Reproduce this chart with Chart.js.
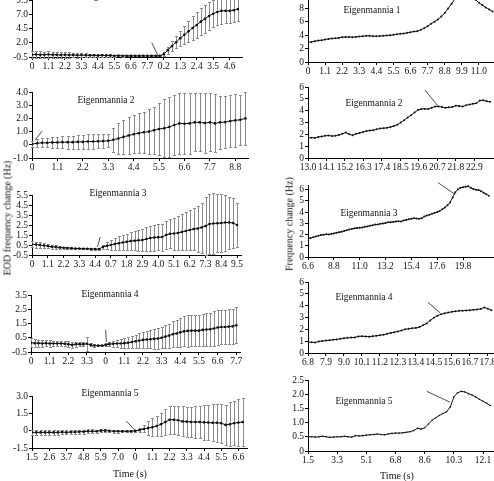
<!DOCTYPE html>
<html>
<head>
<meta charset="utf-8">
<script src="https://cdn.jsdelivr.net/npm/chart.js@4/dist/chart.umd.min.js"></script>
<style>
  html, body { margin: 0; padding: 0; background: #fff; }
  body { width: 494px; height: 481px; position: relative; overflow: hidden; font-family: "Liberation Serif", "Times New Roman", serif; color: #111; }
  canvas { position: absolute; }
  .lbl { position: absolute; font-size: 9.5px; white-space: nowrap; transform: translate(-50%, -50%); }
  .vlbl { position: absolute; font-size: 10px; white-space: nowrap; transform: translate(-50%, -50%) rotate(-90deg); }
</style>
</head>
<body>
<canvas id="l1"></canvas><canvas id="l2"></canvas><canvas id="l3"></canvas><canvas id="l4"></canvas><canvas id="l5"></canvas>
<canvas id="r1"></canvas><canvas id="r2"></canvas><canvas id="r3"></canvas><canvas id="r4"></canvas><canvas id="r5"></canvas>

<div class="lbl" style="left:114px;top:-4px">Eigenmannia 1</div>
<div class="lbl" style="left:106px;top:100px">Eigenmannia 2</div>
<div class="lbl" style="left:118px;top:193px">Eigenmannia 3</div>
<div class="lbl" style="left:110px;top:294px">Eigenmannia 4</div>
<div class="lbl" style="left:110px;top:393px">Eigenmannia 5</div>
<div class="lbl" style="left:372px;top:10px">Eigenmannia 1</div>
<div class="lbl" style="left:374px;top:103px">Eigenmannia 2</div>
<div class="lbl" style="left:369px;top:213px">Eigenmannia 3</div>
<div class="lbl" style="left:364px;top:297px">Eigenmannia 4</div>
<div class="lbl" style="left:364px;top:401px">Eigenmannia 5</div>
<div class="vlbl" style="left:7px;top:218px">EOD frequency change (Hz)</div>
<div class="vlbl" style="left:289px;top:224px">Frequency change (Hz)</div>
<div class="lbl" style="left:130px;top:473px;font-size:10px">Time (s)</div>
<div class="lbl" style="left:397px;top:475px;font-size:10px">Time (s)</div>

<script>
// ---- data: left column (mean +- error, 0 = stimulus) ----
const l1Mean = [-0.1,-0.05,-0.1,-0.1,-0.05,-0.1,-0.1,-0.15,-0.1,-0.15,-0.15,-0.2,-0.15,-0.2,-0.2,-0.2,-0.25,-0.2,-0.25,-0.25,-0.3,-0.25,-0.3,-0.3,-0.3,-0.3,-0.3,-0.3,-0.3,-0.3,-0.3,-0.3,
  0.0,0.7,1.4,2.1,2.8,3.4,4.0,4.6,5.1,5.7,6.2,6.7,7.1,7.4,7.6,7.6,7.6,7.7,7.9];
const l1Err = [0.6,0.55,0.6,0.55,0.6,0.55,0.5,0.5,0.55,0.5,0.4,0.4,0.35,0.35,0.3,0.3,0.3,0.25,0.25,0.2,0.15,0.15,0.15,0.1,0.1,0.1,0.1,0.08,0.08,0.08,0.08,0.1,
  0.3,0.6,0.9,1.1,1.3,1.6,1.9,2.1,2.3,2.4,2.5,2.5,2.4,2.3,2.3,2.2,2.1,2.0,2.0];
const l1XLabels = ['0','1.1','2.2','3.3','4.4','5.5','6.6','7.7','0.2','1.3','2.4','3.5','4.6'];
const l1YTicks = [-0.5, 2.0, 4.5, 7.0, 9.5];
const l1YLabels = ['-0.5','2.0','4.5','7.0','9.5'];
const l1Arrow = [29.1, 2.0, 30.5, -0.1];

const l2Mean = [0.05,0.12,0.15,0.15,0.18,0.18,0.2,0.2,0.2,0.22,0.22,0.25,0.25,0.27,0.28,0.3,0.38,0.48,0.6,0.7,0.8,0.88,0.95,1.0,1.1,1.2,1.25,1.35,1.5,1.62,1.6,1.62,1.7,1.7,1.65,1.7,1.62,1.7,1.72,1.8,1.85,1.9,2.0];
const l2Err = [0.25,0.3,0.35,0.35,0.4,0.4,0.45,0.5,0.5,0.55,0.55,0.55,0.55,0.55,0.55,0.5,0.9,1.2,1.3,1.4,1.45,1.5,1.55,1.7,1.8,2.0,2.2,2.3,2.3,2.3,2.3,2.3,2.2,2.2,2.3,2.2,2.2,2.0,2.0,2.0,2.0,1.9,2.0];
const l2XLabels = ['0','1.1','2.2','3.3','4.4','5.5','6.6','7.7','8.8'];
const l2YTicks = [-1, 0, 1, 2, 3, 4];
const l2YLabels = ['-1.0','0','1.0','2.0','3.0','4.0'];
const l2Arrow = [2.0, 1.05, 0.6, 0.35];

const l3Mean = [0.57,0.55,0.5,0.45,0.4,0.32,0.3,0.25,0.22,0.2,0.18,0.15,0.15,0.12,0.12,0.1,0.1,0.1,0.3,0.42,0.5,0.6,0.68,0.75,0.82,0.9,0.92,0.97,1.0,1.1,1.2,1.25,1.28,1.3,1.5,1.62,1.65,1.7,1.8,1.9,2.0,2.1,2.15,2.25,2.4,2.6,2.65,2.68,2.7,2.75,2.75,2.7,2.5];
const l3Err = [0.3,0.3,0.28,0.25,0.22,0.2,0.18,0.15,0.12,0.1,0.1,0.08,0.08,0.06,0.06,0.05,0.05,0.05,0.2,0.35,0.5,0.6,0.7,0.75,0.8,0.9,0.95,1.05,1.1,1.2,1.25,1.3,1.3,1.35,1.4,1.45,1.6,1.7,1.8,1.9,2.0,2.1,2.3,2.5,2.9,3.0,3.0,2.9,2.85,2.8,2.6,2.5,2.2];
const l3XLabels = ['0','1.1','2.2','3.3','4.4','0.7','1.8','2.9','4.0','5.1','6.2','7.3','8.4','9.5'];
const l3YTicks = [-0.5, 0.5, 1.5, 2.5, 3.5, 4.5, 5.5];
const l3YLabels = ['-0.5','0.5','1.5','2.5','3.5','4.5','5.5'];
const l3Arrow = [17.3, 1.3, 16.6, 0.3];

const l4Mean = [0.15,0.12,0.12,0.1,0.12,0.1,0.1,0.1,0.1,0.08,0.05,0.0,0.05,0.05,0.05,0.08,0.0,-0.05,-0.05,-0.05,0.0,0.05,0.08,0.1,0.1,0.12,0.15,0.2,0.25,0.3,0.35,0.38,0.4,0.42,0.45,0.5,0.58,0.65,0.75,0.8,0.88,0.95,0.98,1.0,1.0,1.0,1.05,1.08,1.1,1.15,1.22,1.25,1.25,1.28,1.3,1.38];
const l4Err = [0.3,0.28,0.25,0.25,0.22,0.22,0.2,0.2,0.2,0.18,0.2,0.22,0.18,0.15,0.15,0.5,0.1,0.08,0.06,0.06,0.1,0.15,0.2,0.25,0.3,0.35,0.4,0.45,0.45,0.5,0.55,0.6,0.65,0.7,0.72,0.75,0.8,0.85,0.9,0.95,1.0,1.05,1.1,1.1,1.1,1.1,1.1,1.15,1.15,1.2,1.2,1.2,1.2,1.25,1.25,1.25];
const l4XLabels = ['0','1.1','2.2','3.3','0','1.1','2.2','3.3','4.4','5.5','6.6','7.7'];
const l4YTicks = [-0.5, 0.5, 1.5, 2.5, 3.5];
const l4YLabels = ['-0.5','0.5','1.5','2.5','3.5'];
const l4Arrow = [20.0, 1.05, 20.2, 0.2];

const l5Mean = [-0.15,-0.15,-0.15,-0.15,-0.15,-0.15,-0.15,-0.12,-0.15,-0.12,-0.12,-0.1,-0.08,-0.05,-0.05,-0.05,0.0,0.0,-0.02,-0.05,-0.05,-0.05,-0.05,-0.05,-0.02,0.05,0.15,0.22,0.3,0.4,0.55,0.75,0.95,0.95,0.9,0.8,0.78,0.75,0.75,0.75,0.72,0.7,0.68,0.68,0.65,0.5,0.55,0.65,0.7,0.75];
const l5Err = [0.2,0.22,0.2,0.2,0.22,0.2,0.2,0.2,0.18,0.2,0.2,0.18,0.18,0.16,0.16,0.15,0.15,0.14,0.12,0.12,0.12,0.1,0.1,0.1,0.1,0.2,0.3,0.6,0.8,0.9,1.0,1.1,1.2,1.2,1.25,1.3,1.3,1.3,1.35,1.4,1.5,1.55,1.6,1.65,1.7,1.7,1.9,1.9,2.0,2.1];
const l5XLabels = ['1.5','2.6','3.7','4.8','5.9','7.0','0','1.1','2.2','3.3','4.4','5.5','6.6'];
const l5YTicks = [-1.5, 0, 1.5, 3.0];
const l5YLabels = ['-1.5','0','1.5','3.0'];
const l5Arrow = [21.9, 0.85, 24.0, 0.0];

// ---- data: right column (single traces) ----
const r1Vals = [2.9,3.0,3.1,3.2,3.25,3.35,3.45,3.5,3.55,3.6,3.7,3.72,3.75,3.7,3.75,3.8,3.85,3.9,3.9,3.85,3.85,3.88,3.9,3.95,4.0,4.05,4.15,4.2,4.25,4.35,4.45,4.55,4.6,4.8,5.05,5.35,5.7,6.0,6.35,6.8,7.3,8.0,8.7,9.4,10.1,10.5,10.5,10.2,9.8,9.3,8.85,8.5,8.15,7.85,7.55];
const r1XLabels = ['0','1.1','2.2','3.3','4.4','5.5','6.6','7.7','8.8','9.9','11.0'];
const r1YTicks = [0, 2, 4, 6, 8, 10];
const r1YLabels = ['0','2','4','6','8','10'];

const r2Vals = [1.7,1.72,1.7,1.78,1.82,1.88,1.9,1.85,1.88,1.95,2.05,2.15,2.0,1.92,2.05,2.12,2.2,2.28,2.32,2.35,2.42,2.5,2.52,2.55,2.62,2.7,2.82,3.0,3.2,3.42,3.62,3.85,4.05,4.15,4.15,4.15,4.25,4.35,4.35,4.3,4.25,4.28,4.3,4.42,4.4,4.35,4.45,4.52,4.58,4.62,4.85,4.88,4.8,4.75];
const r2XLabels = ['13.0','14.1','15.2','16.3','17.4','18.5','19.6','20.7','21.8','22.9'];
const r2YTicks = [0, 1, 2, 3, 4, 5, 6];
const r2YLabels = ['0','1','2','3','4','5','6'];
const r2Arrow = [34.0, 5.75, 37.8, 4.4];

const r3Vals = [1.63,1.68,1.75,1.82,1.9,1.95,1.98,2.02,2.0,2.05,2.1,2.15,2.2,2.25,2.32,2.38,2.45,2.5,2.55,2.58,2.6,2.62,2.68,2.72,2.78,2.82,2.88,2.9,2.95,2.98,3.02,3.08,3.1,3.12,3.15,3.18,3.15,3.25,3.3,3.35,3.4,3.45,3.42,3.4,3.45,3.6,3.68,3.75,3.85,3.92,4.0,4.1,4.25,4.4,4.6,4.85,5.3,5.75,6.0,6.15,6.2,6.25,6.3,6.15,6.05,5.98,5.95,5.85,5.72,5.58,5.45];
const r3XLabels = ['6.6','8.8','11.0','13.2','15.4','17.6','19.8'];
const r3YTicks = [0, 1, 2, 3, 4, 5, 6];
const r3YLabels = ['0','1','2','3','4','5','6'];
const r3Arrow = [50.4, 6.6, 57.0, 5.55];

const r4Vals = [0.92,0.9,0.88,0.98,1.02,1.05,1.08,1.12,1.15,1.2,1.25,1.28,1.3,1.32,1.4,1.42,1.4,1.38,1.42,1.45,1.5,1.55,1.62,1.7,1.75,1.82,1.9,2.0,2.05,2.1,2.12,2.2,2.35,2.5,2.75,2.98,3.15,3.28,3.35,3.42,3.48,3.52,3.56,3.58,3.6,3.62,3.65,3.68,3.72,3.85,3.75,3.62];
const r4XLabels = ['6.8','7.9','9.0','10.1','11.2','12.3','13.4','14.5','15.6','16.7','17.8'];
const r4YTicks = [0, 1, 2, 3, 4, 5, 6];
const r4YLabels = ['0','1','2','3','4','5','6'];
const r4Arrow = [33.3, 4.3, 36.7, 3.4];

const r5Vals = [0.5,0.5,0.49,0.5,0.52,0.5,0.48,0.49,0.5,0.5,0.52,0.5,0.49,0.54,0.53,0.54,0.56,0.57,0.58,0.6,0.58,0.57,0.6,0.62,0.63,0.63,0.64,0.66,0.68,0.72,0.8,0.77,0.82,0.95,1.08,1.17,1.25,1.32,1.38,1.55,1.9,2.05,2.1,2.08,2.02,1.97,1.9,1.82,1.75,1.68,1.6];
const r5XLabels = ['1.5','3.3','5.1','6.8','8.6','10.3','12.1'];
const r5YTicks = [0, 0.5, 1.0, 1.5, 2.0, 2.5];
const r5YLabels = ['0','0.5','1.0','1.5','2.0','2.5'];
const r5Arrow = [32.6, 2.1, 38.9, 1.72];

Chart.defaults.font.family = '"Liberation Serif", "Times New Roman", serif';
Chart.defaults.font.size = 9.5;
Chart.defaults.color = '#111';

// vertical error bars with little caps, drawn under the mean line
const errorBars = {
  id: 'errorBars',
  beforeDatasetsDraw(chart) {
    const ctx = chart.ctx, xs = chart.scales.x, ys = chart.scales.y;
    chart.data.datasets.forEach(ds => {
      if (!ds.errors) return;
      ctx.save();
      ctx.strokeStyle = '#8a8a8a';
      ctx.lineWidth = 1;
      ds.data.forEach((p, i) => {
        const e = ds.errors[i];
        const x = Math.round(xs.getPixelForValue(p.x)) + 0.5;
        const y1 = Math.round(ys.getPixelForValue(p.y - e)) + 0.5;
        const y2 = Math.round(ys.getPixelForValue(p.y + e)) + 0.5;
        ctx.beginPath();
        ctx.moveTo(x, y1); ctx.lineTo(x, y2);
        ctx.moveTo(x - 1.5, y1); ctx.lineTo(x + 1.5, y1);
        ctx.moveTo(x - 1.5, y2); ctx.lineTo(x + 1.5, y2);
        ctx.stroke();
      });
      ctx.restore();
    });
  }
};

// the little stimulus marker line
const pointer = {
  id: 'pointer',
  afterDatasetsDraw(chart, args, opts) {
    if (!opts.line) return;
    const [x1, y1, x2, y2] = opts.line;
    const ctx = chart.ctx, xs = chart.scales.x, ys = chart.scales.y;
    ctx.save();
    ctx.strokeStyle = '#222';
    ctx.lineWidth = 0.8;
    ctx.beginPath();
    ctx.moveTo(xs.getPixelForValue(x1), ys.getPixelForValue(y1));
    ctx.lineTo(xs.getPixelForValue(x2), ys.getPixelForValue(y2));
    ctx.stroke();
    ctx.restore();
  }
};

// area = chart area on the page [left, top, right, bottom]
function panel(id, area, xMax, xStep, xLabels, yMin, yMax, yTicks, yLabels, vals, errs, arrow, dot) {
  const [l, t, r, b] = area;
  const cv = document.getElementById(id);
  const w = Math.round(r - l + 38), h = Math.round(b - t + 32);
  cv.width = w; cv.height = h;
  cv.style.left = (l - 32) + 'px';
  cv.style.top = (t - 14) + 'px';
  cv.style.width = w + 'px';
  cv.style.height = h + 'px';

  new Chart(cv, {
    type: 'line',
    data: {
      datasets: [{
        data: vals.map((v, i) => ({ x: i, y: v })),
        errors: errs,
        borderColor: '#111',
        borderWidth: 1,
        pointRadius: dot,
        pointBackgroundColor: '#111',
        pointBorderWidth: 0,
        tension: 0
      }]
    },
    options: {
      responsive: false,
      animation: false,
      devicePixelRatio: 1,
      layout: { padding: { left: 0, right: 6, top: 14, bottom: 0 } },
      plugins: { legend: { display: false }, tooltip: { enabled: false }, pointer: { line: arrow } },
      scales: {
        x: {
          type: 'linear', min: 0, max: xMax,
          afterFit: s => { s.height = 18; },
          afterBuildTicks: s => { s.ticks = xLabels.map((_, i) => ({ value: i * xStep })); },
          ticks: { autoSkip: false, maxRotation: 0, padding: 1, callback: (v, i) => xLabels[i] },
          grid: { drawOnChartArea: false, tickLength: 3, color: '#000' },
          border: { color: '#000' }
        },
        y: {
          min: yMin, max: yMax,
          afterFit: s => { s.width = 32; },
          afterBuildTicks: s => { s.ticks = yTicks.map(v => ({ value: v })); },
          ticks: { autoSkip: false, padding: 1, callback: (v, i) => yLabels[i] },
          grid: { drawOnChartArea: false, tickLength: 3, color: '#000' },
          border: { color: '#000' }
        }
      }
    },
    plugins: [errorBars, pointer]
  });
}

panel('l1', [32, 0, 242, 57], 51, 4, l1XLabels, -0.5, 9.5, l1YTicks, l1YLabels, l1Mean, l1Err, l1Arrow, 1.3);
panel('l2', [32, 92, 248, 158], 42.5, 5, l2XLabels, -1, 4, l2YTicks, l2YLabels, l2Mean, l2Err, l2Arrow, 1.3);
panel('l3', [32, 195, 241, 255], 53, 4, l3XLabels, -0.5, 5.5, l3YTicks, l3YLabels, l3Mean, l3Err, l3Arrow, 1.3);
panel('l4', [31, 295, 240, 352], 56, 5, l4XLabels, -0.5, 3.5, l4YTicks, l4YLabels, l4Mean, l4Err, l4Arrow, 1.3);
panel('l5', [32, 396, 247, 448], 50, 4, l5XLabels, -1.5, 3.0, l5YTicks, l5YLabels, l5Mean, l5Err, l5Arrow, 1.3);

panel('r1', [308, -5.5, 496, 61], 55, 5, r1XLabels, 0, 10, r1YTicks, r1YLabels, r1Vals, null, null, 1);
panel('r2', [308, 87, 497, 158], 55, 5.38, r2XLabels, 0, 6, r2YTicks, r2YLabels, r2Vals, null, r2Arrow, 1);
panel('r3', [308, 185, 494, 257], 72, 10, r3XLabels, 0, 6.4, r3YTicks, r3YLabels, r3Vals, null, r3Arrow, 1);
panel('r4', [308, 282, 495, 353], 52, 5, r4XLabels, 0, 6, r4YTicks, r4YLabels, r4Vals, null, r4Arrow, 1);
panel('r5', [308, 380, 494, 451], 51, 8, r5XLabels, 0, 2.5, r5YTicks, r5YLabels, r5Vals, null, r5Arrow, 0.8);
</script>
</body>
</html>
